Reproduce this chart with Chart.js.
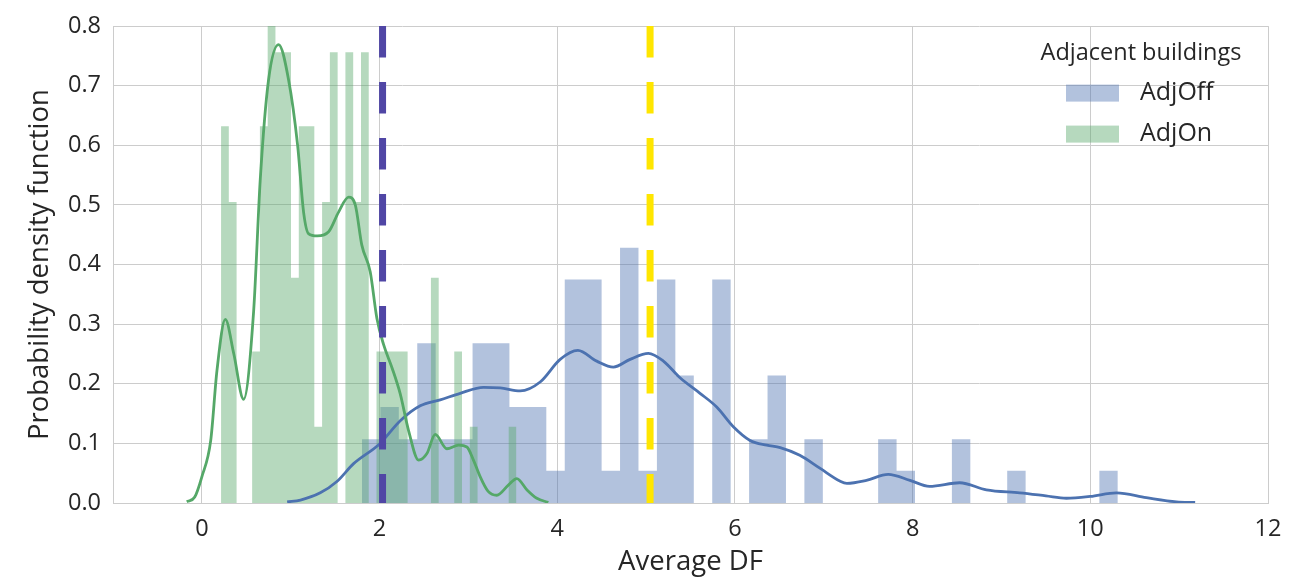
<!DOCTYPE html>
<html>
<head>
<meta charset="utf-8">
<title>Average DF distribution</title>
<script src="https://cdn.jsdelivr.net/npm/chart.js@4.4.1/dist/chart.umd.min.js"></script>
<style>
  html, body { margin: 0; padding: 0; background: #ffffff; }
  #wrap { width: 1299px; height: 579px; position: relative; }
</style>
</head>
<body>
<div id="wrap"><canvas id="chart" width="1299" height="579"></canvas></div>
<script>
// ---- Histogram bins (density) ----
const adjOffBinStart = 1.802;
const adjOffBinWidth = 0.2075;
const adjOffDensity = [
  0.107, 0.161, 0.107, 0.268, 0.107, 0.107, 0.268, 0.268, 0.161, 0.161,
  0.054, 0.375, 0.375, 0.054, 0.428, 0.054, 0.375, 0.214, 0, 0.375,
  0, 0.107, 0.214, 0, 0.107, 0, 0, 0, 0.107, 0.054,
  0, 0, 0.107, 0, 0, 0.054, 0, 0, 0, 0, 0.054
];

const adjOnBinStart = 0.216;
const adjOnBinWidth = 0.0875;
const adjOnDensity = [
  0.632, 0.505, 0, 0, 0.254, 0.632, 0.889, 0.756, 0.756, 0.378,
  0.632, 0.632, 0.128, 0.505, 0.756, 0, 0.756, 0.505, 0.756, 0,
  0.254, 0.254, 0.254, 0.254, 0, 0, 0, 0.378, 0, 0,
  0.254, 0, 0.128, 0, 0, 0, 0, 0.128
];

// ---- Kernel density estimates ----
const adjOffKdeX = [0.96, 1.11, 1.333, 1.52, 1.708, 2.0, 2.233, 2.458, 2.683, 2.908,
  3.17, 3.358, 3.583, 3.808, 4.033, 4.232, 4.445, 4.632, 4.82, 5.026,
  5.195, 5.382, 5.607, 5.795, 5.982, 6.17, 6.358, 6.51, 6.73, 6.96,
  7.18, 7.26, 7.48, 7.725, 7.97, 8.19, 8.53, 8.83, 9.205, 9.5,
  9.73, 10.0, 10.295, 10.63, 10.97, 11.18];
const adjOffKdeY = [0.002, 0.005, 0.017, 0.036, 0.066, 0.099, 0.138, 0.163, 0.173, 0.184,
  0.194, 0.193, 0.188, 0.203, 0.241, 0.256, 0.238, 0.228, 0.241, 0.251,
  0.238, 0.21, 0.184, 0.161, 0.128, 0.105, 0.097, 0.093, 0.08, 0.058,
  0.037, 0.033, 0.038, 0.048, 0.038, 0.028, 0.034, 0.022, 0.017, 0.012,
  0.008, 0.011, 0.017, 0.009, 0.002, 0.001];

const adjOnKdeX = [-0.17, -0.08, 0.0, 0.1, 0.17, 0.264, 0.36, 0.47, 0.583, 0.658,
  0.751, 0.864, 0.976, 1.078, 1.145, 1.2, 1.3, 1.427, 1.539, 1.652,
  1.727, 1.80, 1.895, 1.97, 2.045, 2.14, 2.233, 2.326, 2.44, 2.533,
  2.627, 2.758, 2.89, 2.983, 3.057, 3.13, 3.22, 3.32, 3.45, 3.545,
  3.66, 3.77, 3.90];
const adjOnKdeY = [0.002, 0.01, 0.044, 0.105, 0.222, 0.308, 0.25, 0.174, 0.322, 0.544,
  0.71, 0.769, 0.71, 0.6, 0.488, 0.452, 0.448, 0.455, 0.488, 0.513,
  0.50, 0.433, 0.388, 0.31, 0.266, 0.227, 0.183, 0.122, 0.072, 0.083,
  0.115, 0.091, 0.097, 0.094, 0.072, 0.045, 0.02, 0.013, 0.03, 0.041,
  0.022, 0.008, 0.001];

// ---- Vertical markers ----
const markerX = [2.034, 5.045];

// ---- Axes and labels ----
const xTickValues = [0, 2, 4, 6, 8, 10, 12];
const yTickValues = [0, 0.1, 0.2, 0.3, 0.4, 0.5, 0.6, 0.7, 0.8];
const xTitle = 'Average DF';
const yTitle = 'Probability density function';
const legendTitle = 'Adjacent buildings';
const seriesNames = ['AdjOff', 'AdjOn'];

const blue = '#4C72B0';
const green = '#55A868';
const blueFill = 'rgba(76,114,176,0.43)';
const greenFill = 'rgba(85,168,104,0.43)';
const ink = '#262626';
const gridColor = '#cccccc';
const fontStack = '"Open Sans", "Noto Sans", sans-serif';

// Histogram outline: one point per left bin edge, plus the closing right edge.
// Each bin holds its own height until the next edge, so adjacent bins join
// into one filled area without seams.
function histogramOutline(start, width, density) {
  const pts = density.map((d, i) => ({ x: start + width * i, y: d }));
  pts.push({ x: start + width * density.length, y: density[density.length - 1] });
  return pts;
}
function curvePoints(xs, ys) {
  return xs.map((x, i) => ({ x: x, y: ys[i] }));
}

Chart.defaults.font.family = fontStack;
Chart.defaults.color = ink;

// Legend drawn inside the plot area, top-right, without a frame
const insideLegend = {
  id: 'insideLegend',
  afterDraw(chart) {
    const { ctx, chartArea } = chart;
    ctx.save();
    ctx.fillStyle = ink;
    ctx.textBaseline = 'middle';
    ctx.textAlign = 'center';
    ctx.font = '23.5px ' + fontStack;
    ctx.fillText(legendTitle, chartArea.right - 127, chartArea.top + 27);
    const fills = [blueFill, greenFill];
    seriesNames.forEach((name, i) => {
      const cy = chartArea.top + 67 + i * 41;
      ctx.fillStyle = fills[i];
      ctx.fillRect(chartArea.right - 202, cy - 8.5, 53, 17);
      ctx.fillStyle = ink;
      ctx.textAlign = 'left';
      ctx.font = '25px ' + fontStack;
      ctx.fillText(name, chartArea.right - 128, cy);
    });
    ctx.restore();
  }
};

const histStyle = {
  type: 'line',
  stepped: 'before',
  borderWidth: 0,
  borderColor: 'rgba(0,0,0,0)',
  pointRadius: 0,
  fill: 'origin',
  tension: 0
};

new Chart(document.getElementById('chart'), {
  type: 'line',
  data: {
    datasets: [
      Object.assign({}, histStyle, {
        label: seriesNames[0],
        data: histogramOutline(adjOffBinStart, adjOffBinWidth, adjOffDensity),
        backgroundColor: blueFill,
        order: 10
      }),
      Object.assign({}, histStyle, {
        label: seriesNames[1],
        data: histogramOutline(adjOnBinStart, adjOnBinWidth, adjOnDensity),
        backgroundColor: greenFill,
        clip: { left: 0, top: 6, right: 0, bottom: 0 },
        order: 9
      }),
      {
        label: seriesNames[0] + ' KDE',
        data: curvePoints(adjOffKdeX, adjOffKdeY),
        borderColor: blue,
        borderWidth: 2.8,
        pointRadius: 0,
        fill: false,
        cubicInterpolationMode: 'monotone',
        order: 5
      },
      {
        label: seriesNames[1] + ' KDE',
        data: curvePoints(adjOnKdeX, adjOnKdeY),
        borderColor: green,
        borderWidth: 2.8,
        pointRadius: 0,
        fill: false,
        cubicInterpolationMode: 'monotone',
        order: 4
      },
      {
        label: 'marker low',
        data: [{ x: markerX[0], y: 0.8 }, { x: markerX[0], y: 0 }],
        borderColor: '#5046a5',
        borderWidth: 7,
        borderDash: [31.5, 24.5],
        borderCapStyle: 'butt',
        pointRadius: 0,
        fill: false,
        order: 1
      },
      {
        label: 'marker high',
        data: [{ x: markerX[1], y: 0.8 }, { x: markerX[1], y: 0 }],
        borderColor: '#ffe600',
        borderWidth: 7,
        borderDash: [31.5, 24.5],
        borderCapStyle: 'butt',
        pointRadius: 0,
        fill: false,
        order: 0
      }
    ]
  },
  options: {
    responsive: false,
    animation: false,
    devicePixelRatio: 1,
    layout: { padding: { left: 0, right: 31, top: 23, bottom: 0 } },
    plugins: {
      legend: { display: false },
      tooltip: { enabled: false }
    },
    scales: {
      x: {
        type: 'linear',
        position: 'bottom',
        min: -1,
        max: 12,
        offset: false,
        afterBuildTicks(scale) { scale.ticks = xTickValues.map(v => ({ value: v })); },
        afterFit(scale) { scale.height = 76; },
        grid: { color: gridColor, lineWidth: 1, drawTicks: false, offset: false },
        border: { display: true, color: gridColor, width: 1 },
        ticks: {
          padding: 12,
          color: ink,
          font: { size: 23.5 },
          maxRotation: 0,
          autoSkip: false,
          callback: (v) => String(v)
        },
        title: {
          display: true,
          text: xTitle,
          color: ink,
          font: { size: 27.5 },
          padding: { top: 0, bottom: 0 }
        }
      },
      y: {
        type: 'linear',
        position: 'left',
        min: 0,
        max: 0.8,
        afterBuildTicks(scale) { scale.ticks = yTickValues.map(v => ({ value: v })); },
        afterFit(scale) { scale.width = 113; },
        grid: { color: gridColor, lineWidth: 1, drawTicks: false },
        border: { display: true, color: gridColor, width: 1 },
        ticks: {
          padding: 12,
          color: ink,
          font: { size: 23.5 },
          autoSkip: false,
          callback: (v) => Number(v).toFixed(1)
        },
        title: {
          display: true,
          text: yTitle,
          color: ink,
          font: { size: 27.5 },
          padding: { top: 24, bottom: 0 }
        }
      }
    }
  },
  plugins: [insideLegend]
});
</script>
</body>
</html>
